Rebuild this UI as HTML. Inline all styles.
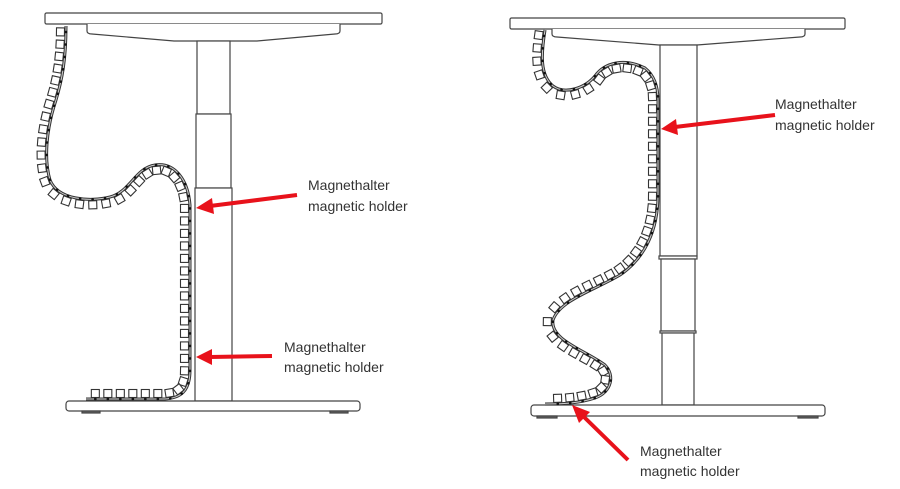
<!DOCTYPE html>
<html><head><meta charset="utf-8"><style>
html,body{margin:0;padding:0;background:#fff;width:900px;height:489px;overflow:hidden}
svg{display:block}
text{font-family:"Liberation Sans",sans-serif;font-size:14px;fill:#333}
</style></head><body>
<svg id="s" width="900" height="489" viewBox="0 0 900 489" xmlns="http://www.w3.org/2000/svg">
<g fill="#fff" stroke="#444" stroke-width="1.2">
<rect x="45" y="13" width="337" height="11" rx="1.5"/>
<path d="M87,24 L87,31 Q87,34 92,34 L174,41 L257,41 L335,34 Q340,34 340,31 L340,24"/>
<rect x="197" y="41" width="33" height="73"/>
<rect x="196" y="114" width="35" height="74"/>
<rect x="195" y="188" width="37" height="213"/>
<rect x="66" y="401" width="294" height="10" rx="3"/>
<rect x="82" y="411" width="18" height="2" fill="#666"/>
<rect x="330" y="411" width="18" height="2" fill="#666"/>
<rect x="510" y="18" width="335" height="11" rx="1.5"/>
<path d="M552,29 L552,34 Q552,37 557,37 L659,45 L697,45 L800,37 Q805,37 805,34 L805,29"/>
<rect x="660" y="45" width="37" height="211"/>
<rect x="659" y="256" width="38" height="3"/>
<rect x="661" y="259" width="34" height="72"/>
<rect x="660" y="331" width="36" height="2"/>
<rect x="662" y="333" width="32" height="72"/>
<rect x="531" y="405" width="294" height="11" rx="3"/>
<rect x="537" y="416" width="20" height="2" fill="#666"/>
<rect x="798" y="416" width="20" height="2" fill="#666"/>
</g>
<g id="chains"></g>
<g stroke="#e8121b" stroke-width="4" fill="#e8121b">
<line x1="297" y1="195" x2="210" y2="206"/>
<polygon points="196,208 212,198 214,214" stroke="none"/>
<line x1="272" y1="356" x2="210" y2="357"/>
<polygon points="196,357 212,349 212,365" stroke="none"/>
<line x1="775" y1="115" x2="675" y2="127"/>
<polygon points="661,129 676,119 678,135" stroke="none"/>
<line x1="628" y1="460" x2="583" y2="416"/>
<polygon points="572,405 590,412 579,423" stroke="none"/>
</g>
<text x="308" y="190">Magnethalter</text>
<text x="308" y="211">magnetic holder</text>
<text x="284" y="352">Magnethalter</text>
<text x="284" y="372">magnetic holder</text>
<text x="775" y="109">Magnethalter</text>
<text x="775" y="130">magnetic holder</text>
<text x="640" y="456">Magnethalter</text>
<text x="640" y="476">magnetic holder</text>
</svg>
<script>
(function(){
var NS="http://www.w3.org/2000/svg";
var g=document.getElementById("chains");
var paths=[
"M66,26 C66,60 62,80 56,100 C46,130 44,160 50,180 C58,200 90,202 110,197 C130,192 135,168 155,165 C175,162 188,180 190,205 L190,370 C190,392 180,398 165,399 L86,399",
"M545,30 C541,55 540,75 553,86 C565,95 585,88 595,76 C605,62 625,58 645,68 C655,76 658,88 658,100 L658,195 C658,230 645,258 620,275 C595,290 560,300 553,320 C550,340 585,350 605,365 C615,375 612,392 595,398 C580,403 565,404 545,404"
];
paths.forEach(function(d){
 var p=document.createElementNS(NS,"path");
 p.setAttribute("d",d);p.setAttribute("fill","none");p.setAttribute("stroke","#333");p.setAttribute("stroke-width","3");
 g.appendChild(p);
 var p2=document.createElementNS(NS,"path");
 p2.setAttribute("d",d);p2.setAttribute("fill","none");p2.setAttribute("stroke","#ccc");p2.setAttribute("stroke-width","1");
 g.appendChild(p2);
 var L=p.getTotalLength();
 for(var s=6;s<L-3;s+=12.5){
  var a=p.getPointAtLength(s),b=p.getPointAtLength(Math.min(L,s+1));
  var dx=b.x-a.x,dy=b.y-a.y,m=Math.hypot(dx,dy)||1;dx/=m;dy/=m;
  var nx=-dy,ny=dx;
  var cx=a.x+nx*5.5,cy=a.y+ny*5.5;
  var ang=Math.atan2(dy,dx)*180/Math.PI;
  var r=document.createElementNS(NS,"rect");
  r.setAttribute("x",-4);r.setAttribute("y",-4);r.setAttribute("width",8);r.setAttribute("height",8);
  r.setAttribute("fill","#fff");r.setAttribute("stroke","#333");r.setAttribute("stroke-width","1.1");
  r.setAttribute("transform","translate("+cx+","+cy+") rotate("+ang+")");
  g.appendChild(r);
  var dot=document.createElementNS(NS,"circle");
  dot.setAttribute("cx",a.x);dot.setAttribute("cy",a.y);dot.setAttribute("r",1.3);dot.setAttribute("fill","#111");
  g.appendChild(dot);
 }
});
})();
</script>
</body></html>
